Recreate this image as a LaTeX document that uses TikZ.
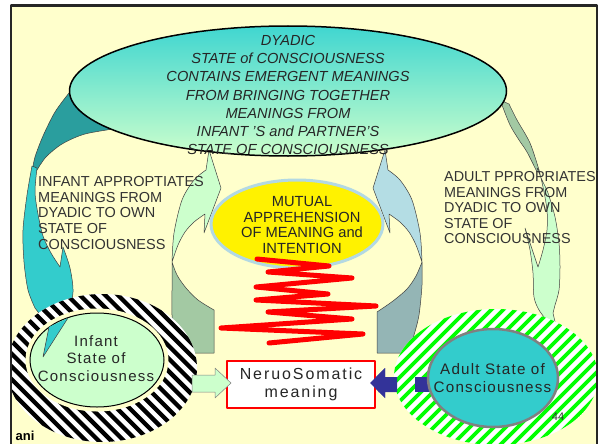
\documentclass[tikz,border=0pt]{standalone}
\usepackage{fontspec}
\setmainfont{Liberation Sans}
\newfontfamily\lsA[LetterSpace=8]{Liberation Sans}
\newfontfamily\lsB[LetterSpace=12]{Liberation Sans}
\definecolor{bgy}{HTML}{FFFFCC}
\definecolor{tealdk}{HTML}{2A9E9E}
\definecolor{teallt}{HTML}{33CCCC}
\definecolor{sage}{HTML}{A3C9A3}
\definecolor{ltgreen}{HTML}{CCFFCC}
\definecolor{ltblue}{HTML}{B4DDE4}
\definecolor{bluegray}{HTML}{94B5B5}
\definecolor{mutborder}{HTML}{B3D9E3}
\definecolor{navyarr}{HTML}{333399}
\definecolor{txtgray}{HTML}{333333}
\definecolor{adultfill}{HTML}{33CCCC}
\definecolor{adultborder}{HTML}{808080}
\definecolor{topteal}{HTML}{40D6D0}
\definecolor{stripegreen}{HTML}{00FF00}
\begin{document}
\begin{tikzpicture}[x=1pt,y=-1pt,line join=round,
  aedge/.style={draw=black!75,line width=0.5pt},
  txt/.style={text=txtgray,inner sep=0pt,align=center}]
\useasboundingbox (0,0) rectangle (602,444);
\fill[white] (0,0) rectangle (602,444);
\fill[bgy] (11,5.5) rectangle (597,460);
\begin{scope}
\clip (11,5.5) rectangle (597,460);
% left outer arrow (dark part)
\filldraw[fill=tealdk,aedge] (120,100) -- (69,93) -- plot[smooth] coordinates {(69,93) (55,112) (43,136) (35,157) (32,172)} -- plot[smooth] coordinates {(37,170) (46,157) (62,144) (85,134) (120,128)} -- cycle;
% left outer arrow (light part)
\filldraw[fill=teallt,aedge] plot[smooth] coordinates {(32,166) (27,195) (23,230) (24,262) (28,290) (35,308)} -- (49,326) -- (43,358) -- (68,318) -- plot[smooth] coordinates {(68,318) (73,292) (70,268) (63,247)} -- (60,267) -- plot[smooth] coordinates {(60,267) (51,253) (43,236) (38,214) (35,192) (37,168)} -- cycle;
% right outer arrow (dark part)
\filldraw[fill=sage,aedge] (500,100) -- plot[smooth] coordinates {(502,105) (510,125) (519,140) (527,152) (537,172)} -- plot[smooth] coordinates {(539,170) (530,143) (517,120) (509,104)} -- cycle;
% right outer arrow (light part)
\filldraw[fill=ltgreen,aedge] plot[smooth] coordinates {(537,168) (542,180) (548,193) (555,217) (559,243) (560,267) (559,290) (555,305)} -- (553,313) -- (558,335) -- (548,322) -- plot[smooth] coordinates {(548,322) (539,310) (534,297) (533,273) (530,250) (525,228)} -- (538,267) -- plot[smooth] coordinates {(538,267) (543,250) (547,230) (547,210) (543,187) (539,170)} -- cycle;
% inner right arrow
\filldraw[fill=ltblue,aedge] (385,150) -- (388,170) -- plot[smooth] coordinates {(388,170) (400,180) (412,200) (420,233) (422,262)} -- plot[smooth] coordinates {(422,262) (416,245) (409,232) (400,222) (389,214)} -- (390,233) -- (373,188) -- cycle;
\filldraw[fill=bluegray,aedge] plot[smooth] coordinates {(422,262) (422,285) (419,315) (414,335) (408,353)} -- (377,353) -- (377,312) -- plot[smooth] coordinates {(377,312) (393,301) (407,289) (416,276) (422,262)} -- cycle;
% inner left arrow
\filldraw[fill=ltgreen,aedge] (209,150) -- (206,170) -- plot[smooth] coordinates {(206,170) (194,180) (182,200) (174,233) (172,262)} -- plot[smooth] coordinates {(172,262) (178,245) (185,232) (194,222) (205,214)} -- (204,233) -- (221,188) -- cycle;
\filldraw[fill=sage,aedge] plot[smooth] coordinates {(172,262) (172,290) (172,315) (174,338) (177,353)} -- (214,353) -- (214,310) -- plot[smooth] coordinates {(214,310) (198,300) (186,288) (177,275) (172,262)} -- cycle;
% mutual ellipse
\filldraw[fill=yellow,draw=mutborder,line width=3pt] (297,224) ellipse [x radius=86pt,y radius=44pt];
% zigzag
\draw[red,line width=5pt,line cap=round,line join=round] (257,259) -- (329,266) -- (268,272) -- (352,278) -- (256,287) -- (328,294) -- (256,300) -- (376,306) -- (268,312) -- (352,319) -- (221,328) -- (363,334) -- (269,343);
% top ellipse
\shade[top color=topteal,bottom color=ltgreen] (288,91) ellipse [x radius=218.5pt,y radius=65pt];
\draw[line width=1.5pt] (288,91) ellipse [x radius=218.5pt,y radius=65pt];
% infant ring
\begin{scope}
\clip (102,368) ellipse [x radius=95pt,y radius=74pt];
\fill[white] (0,280) rectangle (210,450);
\foreach \k in {-25,...,25} \draw[line width=4.3pt] ({102+(\k)*12.7-120},248) -- ++(240,240);
\end{scope}
\draw[bgy,line width=9pt] (97,360) ellipse [x radius=67pt,y radius=47pt];
\filldraw[fill=ltgreen,draw=black,line width=1pt] (97,360) ellipse [x radius=67pt,y radius=47pt];
\fill[teallt] (49,327) -- (43,357) -- (68,318) -- cycle;
\draw[black!75,line width=0.5pt] (49,327) -- (43,357) -- (68,318);
% adult ring
\begin{scope}
\clip (496,377) ellipse [x radius=102pt,y radius=68pt];
\fill[white] (380,300) rectangle (610,450);
\foreach \k in {-25,...,25} \draw[stripegreen,line width=3.8pt] ({496+(\k)*12-120},497) -- ++(240,-240);
\end{scope}
\fill[navyarr] (370,383) -- (385,368) -- (385,377) -- (397,377) -- (397,392) -- (385,392) -- (385,398) -- cycle;
\fill[navyarr] (415,377) rectangle (432,392);
\filldraw[fill=adultfill,draw=adultborder,line width=2.5pt] (493,378) ellipse [x radius=65pt,y radius=49pt];
% NeruoSomatic box
\node[draw=red,fill=white,line width=2pt,minimum width=148pt,minimum height=47pt,inner sep=0pt,align=center,text=black!85,font=\lsB\fontsize{16pt}{18.3pt}\selectfont] (neuro) at (301,384.5) {NeruoSomatic\\meaning};
% green arrow to box
\filldraw[fill=ltgreen,draw=adultborder,line width=0.5pt] (192,375) -- (215,375) -- (215,368) -- (231,383) -- (215,398) -- (215,392) -- (192,392) -- cycle;
% redraw blue arrow tip over box edge
\fill[navyarr] (370,383) -- (385,368) -- (385,377) -- (378,377) -- (378,392) -- (385,392) -- (385,398) -- cycle;
% texts
\node[txt,text=black!85,font=\itshape\fontsize{14.6pt}{18.3pt}\selectfont] (dyad) at (288,95) {DYADIC\\STATE of CONSCIOUSNESS\\CONTAINS EMERGENT MEANINGS\\FROM BRINGING TOGETHER\\MEANINGS FROM\\INFANT 'S and PARTNER'S\\STATE OF CONSCIOUSNESS};
\node[txt,align=left,anchor=west,font=\fontsize{14.5pt}{15.6pt}\selectfont] (inftxt) at (38,213) {INFANT APPROPTIATES\\MEANINGS FROM\\DYADIC TO OWN\\STATE OF\\CONSCIOUSNESS};
\node[txt,align=left,anchor=west,font=\fontsize{14.4pt}{15.5pt}\selectfont] (adtxt) at (444,208) {ADULT PPROPRIATES\\MEANINGS FROM\\DYADIC TO OWN\\STATE OF\\CONSCIOUSNESS};
\node[txt,text=black!85,font=\fontsize{14.7pt}{15.6pt}\selectfont] (mutual) at (302,225) {MUTUAL\\APPREHENSION\\OF MEANING and\\INTENTION};
\node[txt,text=black!85,font=\lsA\fontsize{15pt}{17.6pt}\selectfont] (infant) at (96,358.5) {Infant\\State of\\Consciousness};
\node[txt,text=black!85,font=\lsA\fontsize{15.2pt}{18.3pt}\selectfont] (adult) at (492.5,378) {Adult State of\\Consciousness};
\node[txt,font=\fontsize{11pt}{12pt}\selectfont] (pnum) at (558,417) {44};
\node[txt,text=black,font=\bfseries\fontsize{13pt}{14pt}\selectfont] (ani) at (25,436) {ani};
\end{scope}
\draw[line width=2.2pt,black!85] (11,5.5) rectangle (597,460);
\end{tikzpicture}
\end{document}
